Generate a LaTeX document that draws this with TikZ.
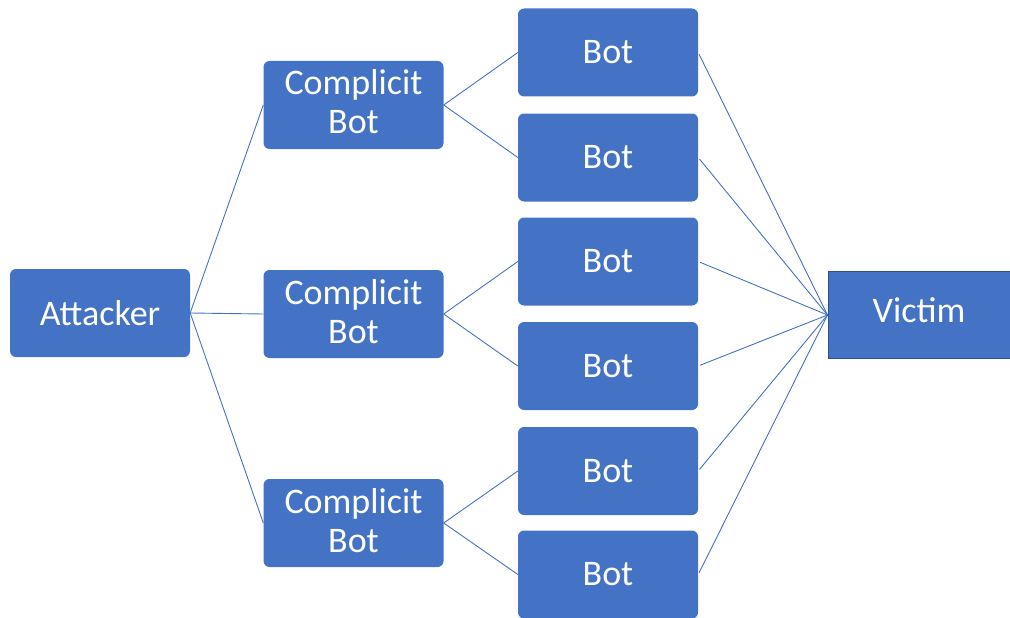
\documentclass[tikz,border=0pt]{standalone}
\usepackage{fontspec}
\setmainfont{Carlito}
\usetikzlibrary{positioning}
\definecolor{boxblue}{HTML}{4472C4}
\definecolor{edgeblue}{HTML}{2F528F}

\begin{document}
\begin{tikzpicture}[x=1pt, y=-1pt,
    box/.style = {fill=boxblue, text=white, rounded corners=6pt,
        minimum width=180pt, minimum height=88pt, align=center,
        font=\fontsize{36}{39}\selectfont},
    twoline/.style = {box, text depth=6pt},
    link/.style = {boxblue, line width=0.9pt}]
            \useasboundingbox (0,0) rectangle (1010,618);

            \node[box] (attacker) at (100,313) {Attacker};

            % middle layer
            \node[twoline] (cb1) at (353.5,105) {Complicit\\Bot};
            \node[twoline] (cb2) at (353.5,314) {Complicit\\Bot};
            \node[twoline] (cb3) at (353.5,523) {Complicit\\Bot};

            \foreach \n/\y in {1/52.5, 2/157.5, 3/261.5, 4/366, 5/471, 6/574.5}
                \node[box] (bot\n) at (608,\y) {Bot};

            \node[box, rounded corners=0pt, draw=edgeblue, line width=1pt,
                text depth=10pt, minimum width=182pt, minimum height=87pt]
                (victim) at (919,315) {Victim};

            \foreach \c in {1,2,3}
                \draw[link] (attacker.east) -- (cb\c.west);

            \draw[link] (cb1.east) -- (bot1.west);
            \draw[link] (cb1.east) -- (bot2.west);
            \draw[link] (cb2.east) -- (bot3.west);
            \draw[link] (cb2.east) -- (bot4.west);
            \draw[link] (cb3.east) -- (bot5.west);
            \draw[link] (cb3.east) -- (bot6.west);

            \foreach \n in {1,...,6}
                \draw[link, shorten <=2pt] (bot\n.east) -- (victim.west);
\end{tikzpicture}
\end{document}
